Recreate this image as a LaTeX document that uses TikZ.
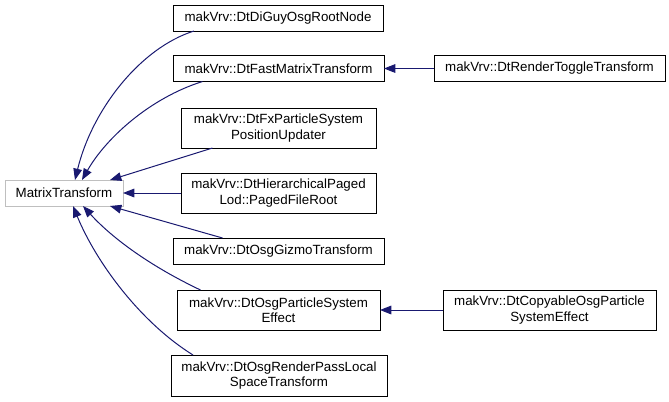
\documentclass[tikz,border=0pt]{standalone}
\usepackage{fontspec}
\setmainfont{Liberation Sans}
\usetikzlibrary{arrows.meta,calc}
\definecolor{edgeblue}{HTML}{191970}
\definecolor{lightborder}{HTML}{BFBFBF}
\begin{document}
\begin{tikzpicture}[x=0.75pt,y=-0.75pt,
  cls/.style={draw=black,line width=0.75pt,fill=white,align=center,inner sep=0pt,outer sep=0pt,font=\fontsize{10}{11.5}\selectfont},
  root/.style={cls,draw=lightborder},
  inh/.style={draw=edgeblue,line width=0.75pt,-{Triangle[length=8.5pt,width=6.5pt]}}]
\useasboundingbox (0,0) rectangle (669,401);
\node[root,minimum width=88.5pt,minimum height=19.5pt] (mt) at (64,193) {MatrixTransform};
\node[cls,minimum width=157.5pt,minimum height=19.5pt] (diguy) at (278,18) {makVrv::DtDiGuyOsgRootNode};
\node[cls,minimum width=158.25pt,minimum height=19.5pt] (fast) at (278.5,68.5) {makVrv::DtFastMatrixTransform};
\node[cls,minimum width=146.25pt,minimum height=30pt] (fx) at (278.5,128) {makVrv::DtFxParticleSystem\\PositionUpdater};
\node[cls,minimum width=146.25pt,minimum height=30pt] (hier) at (278.5,193) {makVrv::DtHierarchicalPaged\\Lod::PagedFileRoot};
\node[cls,minimum width=158.25pt,minimum height=19.5pt] (gizmo) at (278.5,251) {makVrv::DtOsgGizmoTransform};
\node[cls,minimum width=152.25pt,minimum height=30pt] (osgps) at (278.5,310) {makVrv::DtOsgParticleSystem\\Effect};
\node[cls,minimum width=162pt,minimum height=30.75pt] (rpass) at (279,375.5) {makVrv::DtOsgRenderPassLocal\\SpaceTransform};
\node[cls,minimum width=173.25pt,minimum height=19.5pt] (toggle) at (549.5,68.5) {makVrv::DtRenderToggleTransform};
\node[cls,minimum width=159.75pt,minimum height=30pt] (copy) at (549.5,310) {makVrv::DtCopyableOsgParticle\\SystemEffect};

\draw[inh] ($(diguy.south)+(-84,0)$) .. controls (140,48) and (92,110) .. ($(mt.north)+(11,0)$);
\draw[inh] ($(fast.south)+(-76,0)$) .. controls (150,98) and (106,138) .. ($(mt.north)+(18,0)$);
\draw[inh] ($(fx.south)+(-66,0)$) -- ($(mt.north)+(46,0)$);
\draw[inh] (hier.west) -- (mt.east);
\draw[inh] ($(gizmo.north)+(-56,0)$) -- ($(mt.south)+(46,0)$);
\draw[inh] ($(osgps.north)+(-78,0)$) .. controls (150,266) and (112,238) .. ($(mt.south)+(19,0)$);
\draw[inh] ($(rpass.north)+(-86,0)$) .. controls (140,322) and (96,262) .. ($(mt.south)+(9,0)$);
\draw[inh] (toggle.west) -- (fast.east);
\draw[inh] (copy.west) -- (osgps.east);
\end{tikzpicture}
\end{document}
